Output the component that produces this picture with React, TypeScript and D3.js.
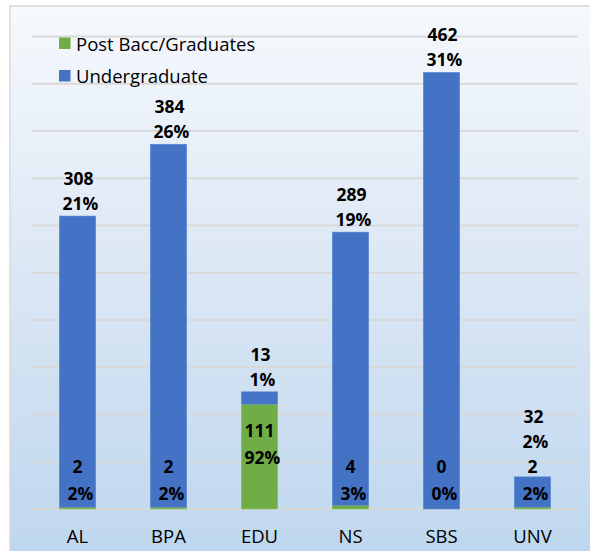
import React from 'react'
import * as d3 from 'd3'

const categories = ['AL', 'BPA', 'EDU', 'NS', 'SBS', 'UNV']
const postBacc = [2, 2, 111, 4, 0, 2]
const undergrad = [308, 384, 13, 289, 462, 32]
const yTicks = [0, 50, 100, 150, 200, 250, 300, 350, 400, 450, 500]

const width = 590
const height = 551
const font = '"Open Sans", sans-serif'
const green = '#70ad47'
const blue = '#4472c4'

const App = () => {
  const rows = categories.map((c, i) => ({ cat: c, post: postBacc[i], under: undergrad[i] }))
  const stack = d3.stack<any>().keys(['post', 'under'])(rows)

  const x = d3.scaleBand().domain(categories).range([32, 578]).paddingInner(0.6).paddingOuter(0.3)
  const y = d3.scaleLinear().domain([0, 500]).range([509, 36.5])

  const postSum = d3.sum(postBacc)
  const underSum = d3.sum(undergrad)
  const pct = (v: number, s: number) => d3.format('.0%')(v / s)

  return (
    <svg width={width} height={height} style={{ position: 'absolute', left: 0, top: 0 }}>
      <defs>
        <linearGradient id="bg" x1="0" y1="0" x2="0" y2="1">
          <stop offset="0" stopColor="#f6f9fd" />
          <stop offset="0.5" stopColor="#dae6f4" />
          <stop offset="1" stopColor="#bdd6ee" />
        </linearGradient>
      </defs>
      <rect x={10} y={6} width={600} height={560} fill="url(#bg)" stroke="#d9d9d9" strokeWidth={1.5} />

      {yTicks.map(t => (
        <line key={t} x1={32} x2={578} y1={y(t)} y2={y(t)} stroke="#d9d9d9" strokeWidth={2} />
      ))}

      {stack.map((s, si) =>
        s.map((d, i) => (
          <rect
            key={si + '-' + i}
            x={x(categories[i])}
            y={y(d[1])}
            width={x.bandwidth()}
            height={y(d[0]) - y(d[1])}
            fill={si === 0 ? green : blue}
            stroke={si === 0 ? '#8cc168' : '#5b8bd6'}
            strokeWidth={0.6}
          />
        ))
      )}

      {rows.map((r, i) => {
        const cx = x(r.cat)! + x.bandwidth() / 2
        const postY = Math.min(y(0) - 43, y(r.post) + 26)
        const underY = Math.min(y(r.post + r.under) - 38, postY - 50)
        const st = { fontFamily: font, fontWeight: 700, fontSize: 17.5, fill: '#000' }
        return (
          <g key={r.cat}>
            <text x={cx} y={postY} textAnchor="middle" dominantBaseline="central" style={st}>{r.post}</text>
            <text x={cx + 3} y={postY + 27} textAnchor="middle" dominantBaseline="central" style={st}>{pct(r.post, postSum)}</text>
            <text x={cx + 1} y={underY} textAnchor="middle" dominantBaseline="central" style={st}>{r.under}</text>
            <text x={cx + 3} y={underY + 25} textAnchor="middle" dominantBaseline="central" style={st}>{pct(r.under, underSum)}</text>
            <text x={cx} y={535} textAnchor="middle" dominantBaseline="central" style={{ fontFamily: font, fontSize: 18.5, fill: '#000' }}>{r.cat}</text>
          </g>
        )
      })}

      <g style={{ fontFamily: font, fontSize: 18.5 }}>
        <rect x={59} y={37.5} width={11.5} height={11.5} fill={green} />
        <text x={76} y={43} dominantBaseline="central">Post Bacc/Graduates</text>
        <rect x={59} y={70} width={11.5} height={11.5} fill={blue} />
        <text x={76} y={75.5} dominantBaseline="central">Undergraduate</text>
      </g>
    </svg>
  )
}

export default App
